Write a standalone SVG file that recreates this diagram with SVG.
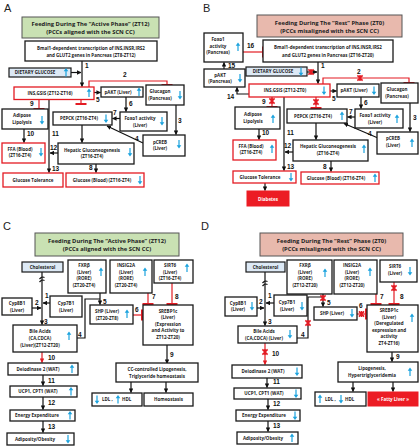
<svg xmlns="http://www.w3.org/2000/svg" width="420" height="446" viewBox="0 0 420 446">
<style>
.bx{fill:#fff;stroke:#1a1a1a;stroke-width:1.3}
.rb{fill:#fff;stroke:#e31b23;stroke-width:1.3}
.lb{fill:#dde9f5;stroke:#1a1a1a;stroke-width:1.2}
.gt{fill:#c9e1b3;stroke:#555;stroke-width:1}
.pt{fill:#e8b9ad;stroke:#555;stroke-width:1}
.rf{fill:#ec1c24;stroke:#ec1c24;stroke-width:1}
text{font-family:"Open Sans","Liberation Sans",sans-serif;fill:#222}
.t{font-size:4.5px;font-weight:bold;text-anchor:middle}
.ts{font-size:4.5px;font-weight:bold}
.w{fill:#fff}
.ttl{font-size:5.8px;font-weight:bold;text-anchor:middle}
.n{font-family:"Liberation Sans",Arial,sans-serif;font-size:6.5px;font-weight:bold;fill:#111}
.pl{font-family:"Liberation Sans",Arial,sans-serif;font-size:11px;fill:#222}
.c{fill:none;stroke:#111;stroke-width:1.2;marker-end:url(#a)}
.cl{fill:none;stroke:#111;stroke-width:1.2}
.r{fill:none;stroke:#e31b23;stroke-width:1.2;marker-end:url(#tb)}
.ra{fill:none;stroke:#e31b23;stroke-width:1.2;marker-end:url(#ar)}
</style>
<defs>
<marker id="a" viewBox="0 0 10 10" refX="9" refY="5" markerWidth="4.5" markerHeight="4.5" markerUnits="userSpaceOnUse" orient="auto"><path d="M0,0 L10,5 L0,10 z" fill="#111"/></marker>
<marker id="ar" viewBox="0 0 10 10" refX="9" refY="5" markerWidth="4.5" markerHeight="4.5" markerUnits="userSpaceOnUse" orient="auto"><path d="M0,0 L10,5 L0,10 z" fill="#e31b23"/></marker>
<marker id="tb" viewBox="-1 -6 2 12" refX="0" refY="0" markerWidth="2" markerHeight="12" markerUnits="userSpaceOnUse" orient="auto"><path d="M0,-5.5 V5.5" stroke="#e31b23" stroke-width="2"/></marker>
<path id="up" d="M0,-4.5 L2.3,-1.3 L0.6,-1.3 L0.6,4 L-0.6,4 L-0.6,-1.3 L-2.3,-1.3 Z" fill="#1ca3de"/>
<path id="dn" d="M0,4.5 L2.3,1.3 L0.6,1.3 L0.6,-4 L-0.6,-4 L-0.6,1.3 L-2.3,1.3 Z" fill="#1ca3de"/>
<path id="x" d="M-2.6,-2.6 L2.6,2.6 M2.6,-2.6 L-2.6,2.6 M0,-3 V3" stroke="#e31b23" stroke-width="1.5" fill="none"/>
</defs>
<rect width="420" height="446" fill="#fff"/>

<!-- Panel letters -->
<text class="pl" x="4" y="12">A</text>
<text class="pl" x="203" y="12">B</text>
<text class="pl" x="3" y="230">C</text>
<text class="pl" x="201" y="230">D</text>

<!-- ================= PANEL A ================= -->
<g id="connectors-A">
<path class="c" d="M71,72.5 H81"/>
<path class="c" d="M82,61 V86.5"/>
<path class="r" d="M89,87 V81 H167 V85"/>
<path class="c" d="M94,92.5 H100.5"/>
<path class="c" d="M126,97 V111.5"/>
<path class="c" d="M120,118.5 H112.5"/>
<path class="c" d="M176,105 V134.5"/>
<path class="c" d="M143,143 L107,126"/>
<path class="r" d="M81,99.5 V104"/>
<path class="r" d="M39,99.5 V108.5"/>
<path class="c" d="M24,129 V142.5"/>
<path class="c" d="M49,99.5 V172.5"/>
<path class="c" d="M82,125 V142.5"/>
<path class="c" d="M58,153 H50"/>
<path class="c" d="M96,164 V172.5"/>
<text class="n" x="85" y="68">1</text>
<text class="n" x="123" y="77">2</text>
<text class="n" x="178" y="123">3</text>
<text class="n" x="135" y="141">4</text>
<text class="n" x="96" y="102">5</text>
<text class="n" x="129" y="106">6</text>
<text class="n" x="113" y="115">7</text>
<text class="n" x="89" y="170">8</text>
<text class="n" x="30" y="106">9</text>
<text class="n" x="27" y="136">10</text>
<text class="n" x="52" y="136">11</text>
<text class="n" x="50" y="150">12</text>
<text class="n" x="52" y="171">13</text>
</g>
<g id="A-title"><rect class="gt" x="22" y="17" width="137" height="21"/><text class="ttl" x="90.5" y="26">Feeding During The “Active Phase” (ZT12)</text><text class="ttl" x="90.5" y="34">(PCCs  aligned with the SCN CC)</text></g>
<g id="A-bmal"><rect class="bx" x="25" y="41" width="132" height="20"/><text class="t" x="91" y="49.5">Bmal1-dependent transcription of INS,INSR,IRS2</text><text class="t" x="91" y="56.5">and GLUT2 genes in Pancreas (ZT8-ZT12)</text></g>
<g id="A-glucose"><rect class="lb" x="9" y="68" width="62" height="9"/><text class="t" x="35" y="74.3">DIETARY GLUCOSE</text><use href="#up" x="66" y="72.5"/></g>
<g id="A-ins"><rect class="rb" x="14" y="87" width="80" height="12.5"/><text class="t" x="50" y="94.8">INS,GSIS (ZT12-ZT16)</text><use href="#up" x="89" y="93"/></g>
<g id="A-pakt"><rect class="bx" x="101" y="87" width="42" height="10"/><text class="t" x="118" y="93.7">pAKT (Liver)</text><use href="#up" x="139" y="92"/></g>
<g id="A-glucagon"><rect class="bx" x="146" y="85" width="38" height="20"/><text class="t" x="160" y="93">Glucagon</text><text class="t" x="160" y="99.5">(Pancreas)</text><use href="#dn" x="180" y="95"/></g>
<g id="A-foxo1"><rect class="bx" x="120" y="112" width="47" height="19"/><text class="t" x="140" y="120">Foxo1 activity</text><text class="t" x="140" y="127">(Liver)</text><use href="#dn" x="162" y="121"/></g>
<g id="A-pepck"><rect class="bx" x="53" y="112" width="59" height="13"/><text class="t" x="79" y="120.3">PEPCK (ZT16-ZT4)</text><use href="#dn" x="106" y="118.5"/></g>
<g id="A-adipose"><rect class="bx" x="2" y="109" width="46" height="20"/><text class="t" x="22" y="117">Adipose</text><text class="t" x="22" y="124">Lipolysis</text><use href="#dn" x="42" y="120"/></g>
<g id="A-pcreb"><rect class="bx" x="143" y="135" width="42" height="21"/><text class="t" x="160" y="143.5">pCREB</text><text class="t" x="160" y="150">(Liver)</text><use href="#dn" x="179" y="144"/></g>
<g id="A-hepatic"><rect class="bx" x="58" y="143" width="76" height="21"/><text class="t" x="92" y="151.5">Hepatic Gluconeogenesis</text><text class="t" x="92" y="158">(ZT16-ZT4)</text><use href="#dn" x="130" y="152"/></g>
<g id="A-ffa"><rect class="rb" x="2" y="143" width="43" height="20"/><text class="t" x="20" y="150.5">FFA (Blood)</text><text class="t" x="20" y="157">(ZT16-ZT4)</text><use href="#dn" x="41" y="152"/></g>
<g id="A-gtol"><rect class="rb" x="3" y="173" width="60" height="14"/><text class="t" x="33" y="181.5">Glucose Tolerance</text></g>
<g id="A-gblood"><rect class="rb" x="66" y="173" width="78" height="14"/><text class="t" x="102" y="181.5">Glucose (Blood) (ZT16-ZT4)</text><use href="#dn" x="140" y="180"/></g>

<!-- ================= PANEL B ================= -->
<g id="connectors-B">
<path class="r" d="M243,52 H262.5"/>
<path class="c" d="M318,62 V83.5"/>
<path class="c" d="M307,72 H317"/>
<use href="#x" x="311" y="72"/>
<path class="r" d="M323,84 V78 H409 V83"/>
<use href="#x" x="360" y="78"/>
<path class="c" d="M224,69 V62.5"/>
<path class="c" d="M249,94 H237 V87.5"/>
<path class="c" d="M330,91 H336.5"/>
<path class="c" d="M361,97 V108.5"/>
<path class="c" d="M355,117 H347.5"/>
<path class="r" d="M316,97 V108"/>
<use href="#x" x="316" y="102"/>
<path class="r" d="M272,97 V106.5"/>
<use href="#x" x="272" y="101"/>
<path class="c" d="M410,103 V131.5"/>
<path class="c" d="M378,138 L344,123.5"/>
<path class="c" d="M259,129 V139.5"/>
<path class="c" d="M284,97 V170.5"/>
<path class="c" d="M316,123 V139.5"/>
<path class="c" d="M293,152 H285"/>
<path class="c" d="M331,161 V171.5"/>
<path class="c" d="M265,183 V190.5"/>
<text class="n" x="321" y="68">1</text>
<text class="n" x="357" y="74">2</text>
<text class="n" x="413" y="120">3</text>
<text class="n" x="368" y="136">4</text>
<text class="n" x="332" y="101">5</text>
<text class="n" x="364" y="105">6</text>
<text class="n" x="349" y="114">7</text>
<text class="n" x="323" y="169">8</text>
<text class="n" x="262" y="104">9</text>
<text class="n" x="262" y="135">10</text>
<text class="n" x="287" y="135">11</text>
<text class="n" x="284" y="148">12</text>
<text class="n" x="287" y="169">13</text>
<text class="n" x="227" y="99">14</text>
<text class="n" x="228" y="68">15</text>
<text class="n" x="247" y="48">16</text>
</g>
<g id="B-title"><rect class="pt" x="257" y="15" width="145" height="22"/><text class="ttl" x="329.5" y="24.5">Feeding During The “Rest” Phase (ZT0)</text><text class="ttl" x="329.5" y="32.5">(PCCs  misaligned with the SCN CC)</text></g>
<g id="B-foxo1p"><rect class="bx" x="204" y="33" width="39" height="29"/><text class="t" x="218" y="41">Foxo1</text><text class="t" x="218" y="47.5">activity</text><text class="t" x="218" y="54">(Pancreas)</text><use href="#up" x="238" y="47"/></g>
<g id="B-bmal"><rect class="bx" x="263" y="40" width="130" height="22"/><text class="t" x="328" y="49">Bmal1-dependent transcription of INS,INSR,IRS2</text><text class="t" x="328" y="56.5">and GLUT2 genes in Pancreas (ZT16-ZT20)</text></g>
<g id="B-glucose"><rect class="lb" x="246" y="67" width="61" height="9"/><text class="t" x="273" y="73.3">DIETARY GLUCOSE</text><use href="#dn" x="301" y="71.5"/></g>
<g id="B-paktp"><rect class="bx" x="204" y="69" width="41" height="18"/><text class="t" x="220" y="76.5">pAKT</text><text class="t" x="220" y="83">(Pancreas)</text><use href="#dn" x="240" y="78"/></g>
<g id="B-ins"><rect class="rb" x="249" y="84" width="81" height="13"/><text class="t" x="285" y="92.3">INS,GSIS (ZT12-ZT0)</text><use href="#dn" x="324" y="90.5"/></g>
<g id="B-pakt"><rect class="bx" x="337" y="84" width="42" height="13"/><text class="t" x="354" y="92.3">pAKT (Liver)</text><use href="#dn" x="374" y="90.5"/></g>
<g id="B-glucagon"><rect class="bx" x="381" y="83" width="37" height="20"/><text class="t" x="397" y="91">Glucagon</text><text class="t" x="397" y="97.5">(Pancreas)</text></g>
<g id="B-foxo1"><rect class="bx" x="355" y="109" width="48" height="19"/><text class="t" x="375" y="117">Foxo1 activity</text><text class="t" x="375" y="124">(Liver)</text><use href="#up" x="397" y="119"/></g>
<g id="B-pepck"><rect class="bx" x="287" y="109" width="60" height="14"/><text class="t" x="313" y="117.8">PEPCK (ZT16-ZT4)</text><use href="#up" x="342" y="116"/></g>
<g id="B-adipose"><rect class="bx" x="235" y="107" width="45" height="22"/><text class="t" x="253" y="115.5">Adipose</text><text class="t" x="253" y="122.5">Lipolysis</text><use href="#up" x="273" y="119"/></g>
<g id="B-pcreb"><rect class="bx" x="377" y="132" width="41" height="22"/><text class="t" x="393" y="140">pCREB</text><text class="t" x="393" y="147">(Liver)</text><use href="#up" x="412" y="143"/></g>
<g id="B-hepatic"><rect class="bx" x="293" y="140" width="75" height="21"/><text class="t" x="328" y="148">Hepatic Gluconeogenesis</text><text class="t" x="328" y="155">(ZT16-ZT4)</text><use href="#up" x="364" y="149"/></g>
<g id="B-ffa"><rect class="rb" x="233" y="140" width="43" height="20"/><text class="t" x="251" y="147.5">FFA (Blood)</text><text class="t" x="251" y="154">(ZT16-ZT4)</text><use href="#up" x="272" y="149"/></g>
<g id="B-gtol"><rect class="rb" x="233" y="171" width="63" height="12"/><text class="t" x="260" y="178.8">Glucose Tolerance</text><use href="#dn" x="291" y="177"/></g>
<g id="B-gblood"><rect class="rb" x="301" y="172" width="78" height="12"/><text class="t" x="336" y="179.8">Glucose (Blood) (ZT16-ZT4)</text><use href="#up" x="375" y="178"/></g>
<g id="B-diabetes"><rect class="rf" x="247" y="191" width="42" height="15"/><text class="t w" x="268" y="200.5">Diabetes</text></g>

<!-- ================= PANEL C ================= -->
<g id="connectors-C">
<path class="c" d="M42,272 V324.5"/>
<path class="cl" d="M39.5,282 q2.5,-3 5,-1.5 M39.5,279 q2.5,-3 5,-1.5"/>
<path class="c" d="M50,303 H43"/>
<path class="c" d="M32,308 H41"/>
<path class="cl" d="M77,338 H85 V299 H100"/>
<path class="c" d="M100,293 V304.5"/>
<path class="r" d="M133,315 H142"/>
<path class="r" d="M148,293 V304"/>
<path class="r" d="M172,283 V304"/>
<path class="c" d="M167,345 V363.5"/>
<path class="ra" d="M42,352 V362.5"/>
<path class="c" d="M43,375 V385.5"/>
<path class="c" d="M43,397 V409.5"/>
<path class="c" d="M43,421 V432.5"/>
<path class="c" d="M131,382 V392.5"/>
<path class="c" d="M166,382 V392.5"/>
<text class="n" x="45" y="298">1</text>
<text class="n" x="35" y="305">2</text>
<text class="n" x="44" y="324">3</text>
<text class="n" x="78" y="337">4</text>
<text class="n" x="103" y="304">5</text>
<text class="n" x="135" y="312">6</text>
<text class="n" x="152" y="299">7</text>
<text class="n" x="175" y="299">8</text>
<text class="n" x="170" y="357">9</text>
<text class="n" x="48" y="360">10</text>
<text class="n" x="48" y="383">11</text>
<text class="n" x="48" y="405">12</text>
<text class="n" x="48" y="429">13</text>
</g>
<g id="C-title"><rect class="gt" x="35" y="233" width="144" height="23"/><text class="ttl" x="107" y="242.5">Feeding During The “Active Phase” (ZT12)</text><text class="ttl" x="107" y="250.5">(PCCs  aligned with the SCN CC)</text></g>
<g id="C-chol"><rect class="lb" x="22" y="262" width="41" height="10"/><text class="t" x="42.5" y="268.7">Cholesterol</text></g>
<g id="C-fxr"><rect class="bx" x="68" y="260" width="38" height="33"/><text class="t" x="84" y="267">FXRβ</text><text class="t" x="84" y="273.5">(Liver)</text><text class="t" x="84" y="280">(RORE)</text><text class="t" x="84" y="286.5">(ZT20-ZT4)</text><use href="#up" x="101" y="272"/></g>
<g id="C-insig"><rect class="bx" x="110" y="260" width="42" height="33"/><text class="t" x="126" y="267">INSIG2A</text><text class="t" x="126" y="273.5">(Liver)</text><text class="t" x="126" y="280">(RORE)</text><text class="t" x="126" y="286.5">(ZT20-ZT4)</text><use href="#up" x="145" y="272"/></g>
<g id="C-sirt6"><rect class="bx" x="154" y="260" width="39" height="23"/><text class="t" x="170" y="267">SIRT6</text><text class="t" x="170" y="273.5">(Liver)</text><text class="t" x="170" y="280">(ZT16-ZT4)</text><use href="#up" x="187" y="268"/></g>
<g id="C-cyp8b1"><rect class="bx" x="2" y="298" width="30" height="17"/><text class="t" x="17" y="305">Cyp8B1</text><text class="t" x="17" y="311.5">(Liver)</text></g>
<g id="C-cyp7b1"><rect class="bx" x="50" y="296" width="32" height="21"/><text class="t" x="66" y="304.5">Cyp7B1</text><text class="t" x="66" y="311.5">(Liver)</text></g>
<g id="C-bile"><rect class="bx" x="13" y="325" width="64" height="27"/><text class="t" x="40" y="333">Bile Acids</text><text class="t" x="40" y="340">(CA,CDCA)</text><text class="t" x="40" y="347">(Liver)(ZT12-ZT20)</text><use href="#up" x="69" y="336"/></g>
<g id="C-shp"><rect class="bx" x="90" y="305" width="43" height="19"/><text class="t" x="107" y="313">SHP (Liver)</text><text class="t" x="107" y="320">(ZT20-ZT8)</text><use href="#up" x="127" y="314"/></g>
<g id="C-srebp"><rect class="bx" x="143" y="305" width="50" height="40"/><text class="t" x="168" y="312.5">SREBP1c</text><text class="t" x="168" y="319">(Liver)</text><text class="t" x="168" y="325.5">(Expression</text><text class="t" x="168" y="332">and Activity to</text><text class="t" x="168" y="338.5">ZT12-ZT20)</text></g>
<g id="C-deio"><rect class="bx" x="8" y="363" width="70" height="12"/><text class="t" x="38" y="371">Deiodinase 2 (WAT)</text><use href="#up" x="72" y="369"/></g>
<g id="C-ucp"><rect class="bx" x="10" y="386" width="67" height="11"/><text class="t" x="38" y="393.3">UCP1, CPT1 (WAT)</text><use href="#up" x="71" y="391.5"/></g>
<g id="C-energy"><rect class="bx" x="10" y="410" width="65" height="11"/><text class="t" x="37" y="417.3">Energy Expenditure</text><use href="#up" x="70" y="415.5"/></g>
<g id="C-adipo"><rect class="bx" x="7" y="433" width="67" height="12"/><text class="t" x="35" y="441">Adiposity/Obesity</text><use href="#dn" x="68" y="439"/></g>
<g id="C-cc"><rect class="bx" x="116" y="363" width="82" height="19"/><text class="t" x="157" y="371">CC-controlled Lipogenesis,</text><text class="t" x="157" y="377.5">Triglyceride homeostasis</text></g>
<g id="C-ldl"><rect class="bx" x="92" y="393" width="50" height="13"/><use href="#dn" x="97" y="399.5"/><text class="ts" x="102" y="401.3">LDL  ,</text><use href="#up" x="118" y="399.5"/><text class="ts" x="122" y="401.3">HDL</text></g>
<g id="C-homeo"><rect class="bx" x="144" y="393" width="49" height="13"/><text class="t" x="168.5" y="401.3">Homeostasis</text></g>

<!-- ================= PANEL D ================= -->
<g id="connectors-D">
<path class="c" d="M265,272 V325.5"/>
<path class="cl" d="M262.5,286 q2.5,-3 5,-1.5 M262.5,283 q2.5,-3 5,-1.5"/>
<path class="c" d="M274,303 H266"/>
<path class="c" d="M257,308 H264"/>
<path class="cl" d="M297,338 H308 V297 H323"/>
<use href="#x" x="308" y="323"/>
<path class="c" d="M323,294 V306.5"/>
<use href="#x" x="323" y="298"/>
<path class="r" d="M357,314 H366"/>
<use href="#x" x="361.5" y="314"/>
<path class="r" d="M376,294 V304"/>
<path class="r" d="M394,282 V304"/>
<use href="#x" x="394" y="288"/>
<path class="c" d="M392,352 V361.5"/>
<path class="ra" d="M265,343 V364.5"/>
<use href="#x" x="265" y="352"/>
<path class="c" d="M267,378 V387.5"/>
<path class="c" d="M268,399 V409.5"/>
<path class="c" d="M268,421 V431.5"/>
<path class="c" d="M353,382 V391.5"/>
<path class="c" d="M393,382 V391.5"/>
<text class="n" x="268" y="298">1</text>
<text class="n" x="259" y="304">2</text>
<text class="n" x="268" y="324">3</text>
<text class="n" x="301" y="337">4</text>
<text class="n" x="327" y="305">5</text>
<text class="n" x="359" y="308">6</text>
<text class="n" x="380" y="299">7</text>
<text class="n" x="400" y="299">8</text>
<text class="n" x="396" y="359">9</text>
<text class="n" x="272" y="356">10</text>
<text class="n" x="273" y="384">11</text>
<text class="n" x="273" y="406">12</text>
<text class="n" x="273" y="428">13</text>
</g>
<g id="D-title"><rect class="pt" x="260" y="233" width="143" height="23"/><text class="ttl" x="331.5" y="242.5">Feeding During The “Rest” Phase (ZT0)</text><text class="ttl" x="331.5" y="250.5">(PCCs  misaligned with the SCN CC)</text></g>
<g id="D-chol"><rect class="lb" x="246" y="262" width="39" height="10"/><text class="t" x="265.5" y="268.7">Cholesterol</text></g>
<g id="D-fxr"><rect class="bx" x="287" y="260" width="45" height="34"/><text class="t" x="305" y="267">FXRβ</text><text class="t" x="305" y="273.5">(Liver)</text><text class="t" x="305" y="280">(RORE)</text><text class="t" x="305" y="286.5">(ZT12-ZT20)</text><use href="#up" x="325" y="273"/></g>
<g id="D-insig"><rect class="bx" x="334" y="260" width="43" height="34"/><text class="t" x="352" y="267">INSIG2A</text><text class="t" x="352" y="273.5">(Liver)</text><text class="t" x="352" y="280">(RORE)</text><text class="t" x="352" y="286.5">(ZT12-ZT20)</text><use href="#up" x="370" y="272"/></g>
<g id="D-sirt6"><rect class="bx" x="380" y="260" width="37" height="22"/><text class="t" x="395" y="268">SIRT6</text><text class="t" x="395" y="274.5">(Liver)</text><use href="#dn" x="410" y="271"/></g>
<g id="D-cyp8b1"><rect class="bx" x="225" y="297" width="32" height="19"/><text class="t" x="238" y="304.5">Cyp8B1</text><text class="t" x="238" y="311">(Liver)</text><use href="#dn" x="252" y="306"/></g>
<g id="D-cyp7b1"><rect class="bx" x="274" y="295" width="33" height="21"/><text class="t" x="287" y="303.5">Cyp7B1</text><text class="t" x="287" y="310.5">(Liver)</text><use href="#dn" x="302" y="306"/></g>
<g id="D-bile"><rect class="bx" x="238" y="326" width="59" height="17"/><text class="t" x="264" y="333">Bile Acids</text><text class="t" x="264" y="340">(CA,CDCA) (Liver)</text><use href="#dn" x="290" y="334"/></g>
<g id="D-shp"><rect class="bx" x="314" y="307" width="43" height="13"/><text class="t" x="332" y="315.3">SHP (Liver)</text><use href="#dn" x="352" y="313"/></g>
<g id="D-srebp"><rect class="bx" x="367" y="305" width="51" height="47"/><text class="t" x="389" y="312">SREBP1c</text><text class="t" x="389" y="318.5">(Liver)</text><text class="t" x="389" y="325">(Deregulated</text><text class="t" x="389" y="331.5">expression and</text><text class="t" x="389" y="338">activity</text><text class="t" x="389" y="344.5">ZT4-ZT16)</text><use href="#up" x="412" y="318"/></g>
<g id="D-deio"><rect class="bx" x="232" y="365" width="70" height="13"/><text class="t" x="263" y="373.3">Deiodinase 2 (WAT)</text><use href="#dn" x="297" y="371.5"/></g>
<g id="D-ucp"><rect class="bx" x="234" y="388" width="67" height="11"/><text class="t" x="264" y="395.3">UCP1, CPT1 (WAT)</text><use href="#dn" x="296" y="393.5"/></g>
<g id="D-energy"><rect class="bx" x="236" y="410" width="64" height="11"/><text class="t" x="264" y="417.3">Energy Expenditure</text><use href="#dn" x="295" y="415.5"/></g>
<g id="D-adipo"><rect class="bx" x="237" y="432" width="61" height="12"/><text class="t" x="263" y="440">Adiposity/Obesity</text><use href="#up" x="292" y="438"/></g>
<g id="D-lipo"><rect class="bx" x="338" y="362" width="80" height="20"/><text class="t" x="372" y="370">Lipogenesis,</text><text class="t" x="372" y="377">Hypertriglyceridemia</text><use href="#up" x="410" y="372"/></g>
<g id="D-ldl"><rect class="bx" x="315" y="392" width="51" height="14"/><use href="#up" x="320" y="399"/><text class="ts" x="325" y="401">LDL  ,</text><use href="#dn" x="341" y="399"/><text class="ts" x="345" y="401">HDL</text></g>
<g id="D-fatty"><rect class="rf" x="368" y="392" width="50" height="14"/><text class="t w" x="393" y="401">« Fatty Liver »</text></g>
</svg>
